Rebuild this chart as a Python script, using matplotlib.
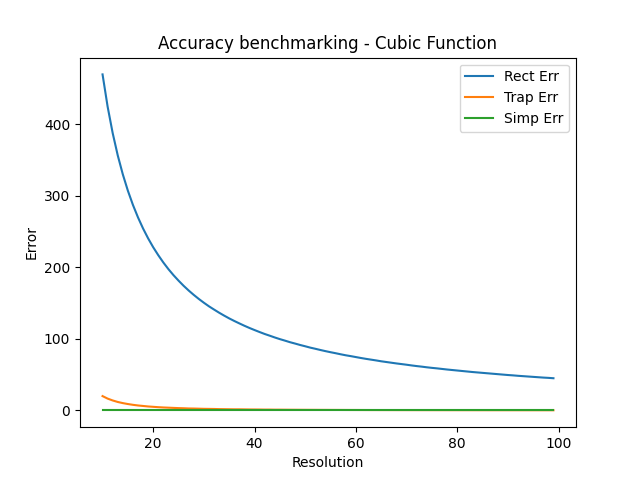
import matplotlib
matplotlib.use('Agg')
import matplotlib.pyplot as plt

# resolution steps (integers 10..99)
resolution = list(range(10, 100))

# errors
rect_err = [
    470.0, 425.0, 387.9, 356.7, 330.2, 307.3, 287.4, 269.9, 254.4, 240.6,
    228.2, 217.1, 206.9, 197.6, 189.2, 181.5, 174.3, 167.7, 161.6, 155.9,
    150.6, 145.6, 141.1, 136.7, 132.6, 128.7, 125.1, 121.7, 118.4, 115.3,
    112.4, 109.6, 106.9, 104.5, 102.0, 99.7, 97.6, 95.4, 93.5, 91.5,
    89.7, 87.8, 86.2, 84.5, 82.9, 81.4, 80.0, 78.5, 77.1, 75.9,
    74.6, 73.3, 72.1, 71.0, 69.9, 68.7, 67.7, 66.7, 65.7, 64.8,
    63.9, 62.9, 62.0, 61.2, 60.3, 59.5, 58.8, 58.0, 57.2, 56.5,
    55.8, 55.1, 54.4, 53.7, 53.1, 52.5, 51.9, 51.3, 50.7, 50.1,
    49.5, 49.0, 48.4, 47.9, 47.4, 46.9, 46.4, 45.9, 45.5, 45.0,
]
trap_err = [
    20.0, 16.5, 13.9, 11.8, 10.2, 8.9, 7.8, 6.9, 6.2, 5.5,
    5.0, 4.5, 4.1, 3.8, 3.5, 3.2, 3.0, 2.7, 2.6, 2.4,
    2.2, 2.1, 2.0, 1.8, 1.7, 1.6, 1.5, 1.5, 1.4, 1.3,
    1.25, 1.2, 1.1, 1.1, 1.0, 1.0, 0.95, 0.9, 0.87, 0.83,
    0.8, 0.77, 0.74, 0.71, 0.69, 0.66, 0.64, 0.62, 0.59, 0.57,
    0.56, 0.54, 0.52, 0.5, 0.49, 0.47, 0.46, 0.45, 0.43, 0.42,
    0.41, 0.4, 0.39, 0.38, 0.37, 0.36, 0.35, 0.34, 0.33, 0.32,
    0.31, 0.3, 0.3, 0.29, 0.28, 0.28, 0.27, 0.26, 0.26, 0.25,
    0.25, 0.24, 0.24, 0.23, 0.23, 0.22, 0.22, 0.21, 0.21, 0.2,
]
simp_err = [0.0] * len(resolution)

plt.figure(figsize=(6.4, 4.8))
plt.plot(resolution, rect_err, label='Rect Err')
plt.plot(resolution, trap_err, label='Trap Err')
plt.plot(resolution, simp_err, label='Simp Err')
plt.title("Accuracy benchmarking - Cubic Function")
plt.xlabel("Resolution")
plt.ylabel("Error")
plt.legend()

plt.savefig('out.png', dpi=100)
plt.close()
